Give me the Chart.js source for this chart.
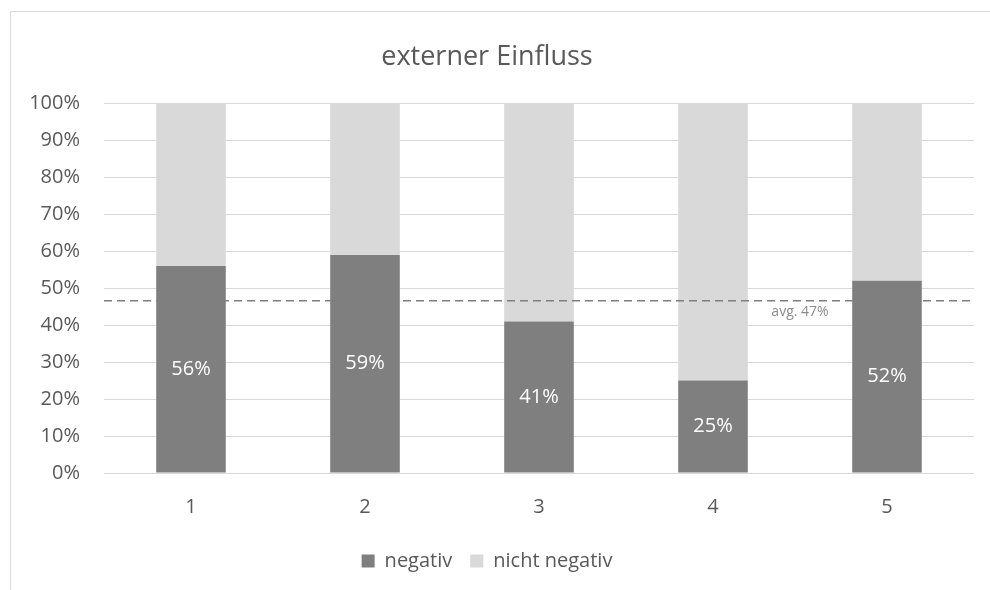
<!DOCTYPE html>
<html>
<head>
<meta charset="utf-8">
<script src="https://cdn.jsdelivr.net/npm/chart.js@4/dist/chart.umd.min.js"></script>
<style>
  html, body { margin: 0; padding: 0; background: #fff; overflow: hidden; }
  #wrap { position: relative; width: 990px; height: 590px; }
  #frame { position: absolute; left: 10px; top: 11px; width: 1000px; height: 600px; border: 1px solid #d9d9d9; box-sizing: border-box; }
  #chart { position: absolute; left: 0; top: 0; }
</style>
</head>
<body>
<div id="wrap">
  <div id="frame"></div>
  <canvas id="chart" width="990" height="590"></canvas>
</div>
<script>
// Share of "negativ" answers per group, rest is "nicht negativ"
const categories = ['1', '2', '3', '4', '5'];
const negativ = [56, 59, 41, 25, 52];
const nichtNegativ = negativ.map(v => 100 - v);
const avgValue = negativ.reduce((a, b) => a + b, 0) / negativ.length;

const FONT = "'Open Sans', sans-serif";
const TEXT = '#595959';

// Percent labels inside the dark segments
const valueLabels = {
  id: 'valueLabels',
  afterDatasetsDraw(chart) {
    const ctx = chart.ctx;
    const meta = chart.getDatasetMeta(0);
    ctx.save();
    ctx.fillStyle = '#ffffff';
    ctx.font = '20px ' + FONT;
    ctx.textAlign = 'center';
    ctx.textBaseline = 'middle';
    meta.data.forEach((bar, i) => {
      const y = (bar.y + bar.base) / 2;
      ctx.fillText(negativ[i] + '%', bar.x, y);
    });
    ctx.restore();
  }
};

// Dashed average line across the plot
const avgLine = {
  id: 'avgLine',
  afterDatasetsDraw(chart) {
    const { ctx, chartArea, scales } = chart;
    const y = scales.y.getPixelForValue(avgValue);
    ctx.save();
    ctx.strokeStyle = '#7f7f7f';
    ctx.lineWidth = 1.5;
    ctx.setLineDash([8, 5]);
    ctx.beginPath();
    ctx.moveTo(chartArea.left, y);
    ctx.lineTo(chartArea.right, y);
    ctx.stroke();
    ctx.setLineDash([]);
    const x = (scales.x.getPixelForValue(3) + scales.x.getPixelForValue(4)) / 2;
    ctx.fillStyle = '#8c8c8c';
    ctx.font = '14px ' + FONT;
    ctx.textAlign = 'center';
    ctx.textBaseline = 'top';
    ctx.fillText('avg. ' + Math.round(avgValue) + '%', x, y + 4);
    ctx.restore();
  }
};

new Chart(document.getElementById('chart'), {
  type: 'bar',
  data: {
    labels: categories,
    datasets: [
      { label: 'negativ', data: negativ, backgroundColor: '#7f7f7f' },
      { label: 'nicht negativ', data: nichtNegativ, backgroundColor: '#d9d9d9' }
    ]
  },
  options: {
    responsive: false,
    animation: false,
    devicePixelRatio: 1,
    layout: { padding: { left: 0, right: 16, top: 0, bottom: 9 } },
    datasets: { bar: { barPercentage: 0.4, categoryPercentage: 1 } },
    plugins: {
      title: {
        display: true,
        text: 'externer Einfluss',
        color: TEXT,
        font: { family: FONT, size: 27, weight: 'normal' },
        padding: { top: 41, bottom: 30 }
      },
      legend: {
        position: 'bottom',
        labels: {
          color: TEXT,
          font: { family: FONT, size: 20 },
          boxWidth: 13,
          boxHeight: 13,
          padding: 18
        }
      },
      tooltip: { enabled: false }
    },
    scales: {
      x: {
        stacked: true,
        grid: { display: false },
        border: { display: false },
        ticks: { color: TEXT, font: { family: FONT, size: 20 }, padding: 14 }
      },
      y: {
        stacked: true,
        min: 0,
        max: 100,
        afterFit(scale) { scale.width = 104; },
        grid: { color: '#d9d9d9', drawTicks: false },
        border: { display: false },
        ticks: {
          stepSize: 10,
          color: TEXT,
          font: { family: FONT, size: 20 },
          padding: 24,
          callback: v => v + '%'
        }
      }
    }
  },
  plugins: [valueLabels, avgLine]
});
</script>
</body>
</html>
